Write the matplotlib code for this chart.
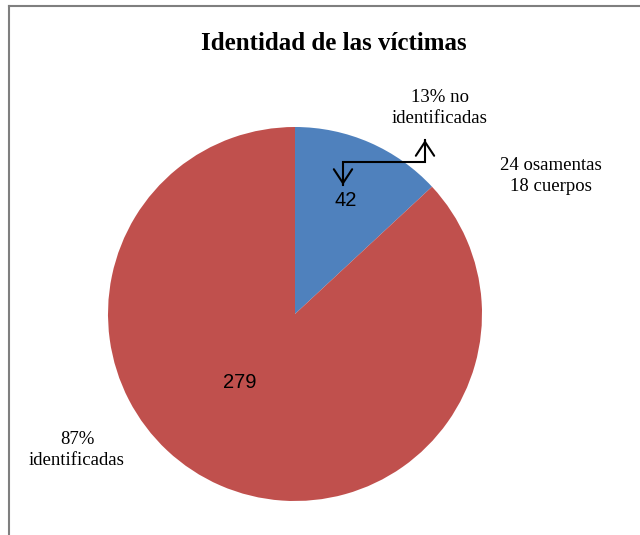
import matplotlib.pyplot as plt
from matplotlib.lines import Line2D

# data
labels = ['no identificadas', 'identificadas']
values = [42, 279]
pct_text = ['13% no\nidentificadas', '87%\nidentificadas']
colors = ['#4F81BD', '#C0504D']
detail = '24 osamentas\n18 cuerpos'
title = 'Identidad de las víctimas'

serif = ['Liberation Serif', 'DejaVu Serif']

fig = plt.figure(figsize=(6.4, 5.35), dpi=100)
ax = fig.add_axes([0, 0, 1, 1])
r = 187.0  # pixels per unit radius
cx, cy = 295, 314
ax.pie(values, colors=colors, startangle=90, counterclock=False, radius=1.0,
       wedgeprops=dict(linewidth=0))
ax.set_xlim(-cx / r, (640 - cx) / r)
ax.set_ylim((cy - 535) / r, cy / r)
ax.set_aspect('equal')
ax.axis('off')

def px(x, y):
    return ((x - cx) / r, (cy - y) / r)

# value labels
ax.text(*px(346, 200), str(values[0]), ha='center', va='center',
        fontsize=14.5, family=['Liberation Sans'])
ax.text(*px(240, 383), str(values[1]), ha='center', va='center',
        fontsize=14.5, family=['Liberation Sans'])

# category labels
ax.text(*px(440, 108), pct_text[0], ha='center', va='center',
        fontsize=13.5, family=serif, linespacing=1.35)
ax.text(*px(77, 450), pct_text[1], ha='center', va='center',
        fontsize=13.5, family=serif, linespacing=1.35)
ax.text(*px(551, 176), detail, ha='center', va='center',
        fontsize=13.5, family=serif, linespacing=1.35)

# bent arrow
p1 = px(343, 185)
p2 = px(343, 162)
p3 = px(425, 162)
p4 = px(425, 140)
ax.plot([p1[0], p2[0], p3[0], p4[0]], [p1[1], p2[1], p3[1], p4[1]],
        color='black', lw=1.5, solid_joinstyle='miter')
head = '->, head_length=0.5, head_width=0.33'
ax.annotate('', xy=p1, xytext=(p1[0], p1[1] + 0.02),
            arrowprops=dict(arrowstyle=head, lw=1.5, color='black',
                            mutation_scale=20))
ax.annotate('', xy=p4, xytext=(p4[0], p4[1] - 0.02),
            arrowprops=dict(arrowstyle=head, lw=1.5, color='black',
                            mutation_scale=20))

fig.text(334 / 640, 1 - 43 / 535, title, ha='center', va='center',
         fontsize=18, fontweight='bold', family=serif)

# frame
fig.add_artist(Line2D([9 / 640, 9 / 640], [0, 1 - 6 / 535],
                      transform=fig.transFigure, color='#7f7f7f', lw=1.5))
fig.add_artist(Line2D([9 / 640, 1], [1 - 6 / 535, 1 - 6 / 535],
                      transform=fig.transFigure, color='#7f7f7f', lw=1.5))

fig.savefig('out.png', dpi=100)
